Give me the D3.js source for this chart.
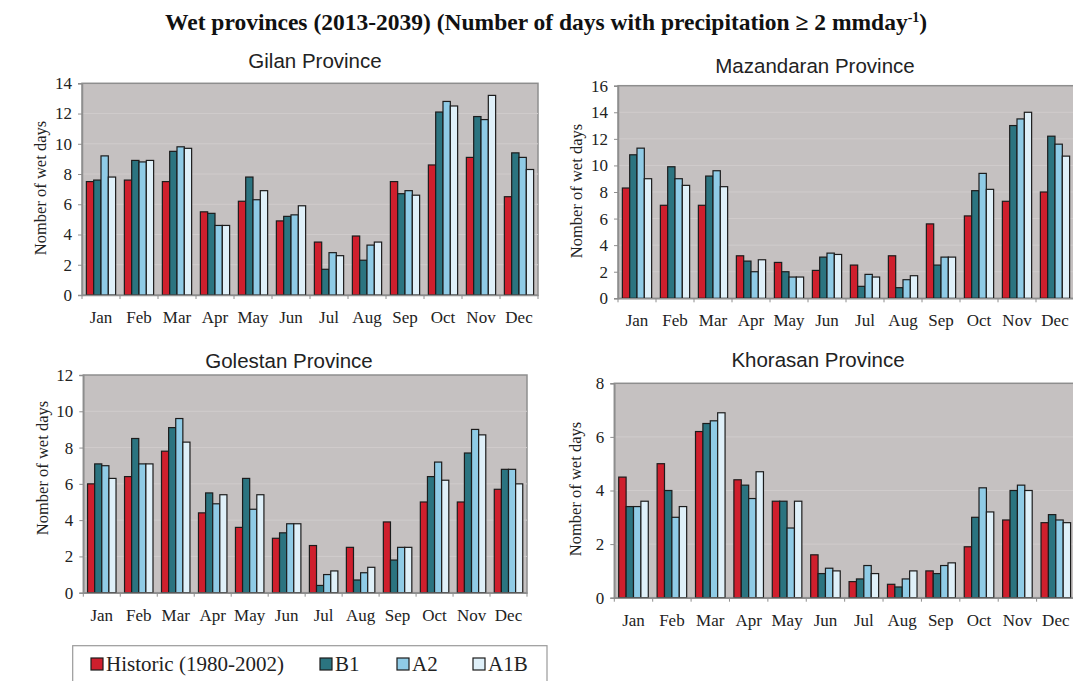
<!DOCTYPE html>
<html>
<head>
<meta charset="utf-8">
<script src="https://cdn.jsdelivr.net/npm/d3@7"></script>
<style>
  html, body { margin: 0; padding: 0; background: #fff; overflow: hidden; }
  svg { display: block; }
</style>
</head>
<body>
<svg id="chart" width="1073" height="681"></svg>
<script>
// ---------------- DATA ----------------
const months = ["Jan","Feb","Mar","Apr","May","Jun","Jul","Aug","Sep","Oct","Nov","Dec"];
const seriesNames = ["Historic (1980-2002)", "B1", "A2", "A1B"];

const gilanHistoric = [7.5, 7.6, 7.5, 5.5, 6.2, 4.9, 3.5, 3.9, 7.5, 8.6, 9.1, 6.5];
const gilanB1       = [7.6, 8.9, 9.5, 5.4, 7.8, 5.2, 1.7, 2.3, 6.7, 12.1, 11.8, 9.4];
const gilanA2       = [9.2, 8.8, 9.8, 4.6, 6.3, 5.3, 2.8, 3.3, 6.9, 12.8, 11.6, 9.1];
const gilanA1B      = [7.8, 8.9, 9.7, 4.6, 6.9, 5.9, 2.6, 3.5, 6.6, 12.5, 13.2, 8.3];

const mazandaranHistoric = [8.3, 7.0, 7.0, 3.2, 2.7, 2.1, 2.5, 3.2, 5.6, 6.2, 7.3, 8.0];
const mazandaranB1       = [10.8, 9.9, 9.2, 2.8, 2.0, 3.1, 0.9, 0.8, 2.5, 8.1, 13.0, 12.2];
const mazandaranA2       = [11.3, 9.0, 9.6, 2.0, 1.6, 3.4, 1.8, 1.4, 3.1, 9.4, 13.5, 11.6];
const mazandaranA1B      = [9.0, 8.5, 8.4, 2.9, 1.6, 3.3, 1.6, 1.7, 3.1, 8.2, 14.0, 10.7];

const golestanHistoric = [6.0, 6.4, 7.8, 4.4, 3.6, 3.0, 2.6, 2.5, 3.9, 5.0, 5.0, 5.7];
const golestanB1       = [7.1, 8.5, 9.1, 5.5, 6.3, 3.3, 0.4, 0.7, 1.8, 6.4, 7.7, 6.8];
const golestanA2       = [7.0, 7.1, 9.6, 4.9, 4.6, 3.8, 1.0, 1.1, 2.5, 7.2, 9.0, 6.8];
const golestanA1B      = [6.3, 7.1, 8.3, 5.4, 5.4, 3.8, 1.2, 1.4, 2.5, 6.2, 8.7, 6.0];

const khorasanHistoric = [4.5, 5.0, 6.2, 4.4, 3.6, 1.6, 0.6, 0.5, 1.0, 1.9, 2.9, 2.8];
const khorasanB1       = [3.4, 4.0, 6.5, 4.2, 3.6, 0.9, 0.7, 0.4, 0.9, 3.0, 4.0, 3.1];
const khorasanA2       = [3.4, 3.0, 6.6, 3.7, 2.6, 1.1, 1.2, 0.7, 1.2, 4.1, 4.2, 2.9];
const khorasanA1B      = [3.6, 3.4, 6.9, 4.7, 3.6, 1.0, 0.9, 1.0, 1.3, 3.2, 4.0, 2.8];

const gilanTicks = [0, 2, 4, 6, 8, 10, 12, 14];
const mazandaranTicks = [0, 2, 4, 6, 8, 10, 12, 14, 16];
const golestanTicks = [0, 2, 4, 6, 8, 10, 12];
const khorasanTicks = [0, 2, 4, 6, 8];

const mainTitle = "Wet provinces (2013-2039) (Number of days with precipitation \u2265 2 mmday";
const yLabel = "Nomber of wet days";

// ---------------- STYLE / LAYOUT ----------------
const colors = ["#cf1f2d", "#2b7480", "#8fcbe6", "#dff0f9"];
const serif = "'Liberation Serif', 'Times New Roman', serif";
const sans = "'Liberation Sans', Arial, sans-serif";

const panels = [
  { title: "Gilan Province", data: [gilanHistoric, gilanB1, gilanA2, gilanA1B], ticks: gilanTicks,
    x0: 82, x1: 538, yTop: 83.3, yBot: 295, titleX: 315, titleY: 68, yLabX: 40, yLabY: 188 },
  { title: "Mazandaran Province", data: [mazandaranHistoric, mazandaranB1, mazandaranA2, mazandaranA1B], ticks: mazandaranTicks,
    x0: 618, x1: 1074, yTop: 85.7, yBot: 298.3, titleX: 815, titleY: 73, yLabX: 576, yLabY: 191 },
  { title: "Golestan Province", data: [golestanHistoric, golestanB1, golestanA2, golestanA1B], ticks: golestanTicks,
    x0: 83.3, x1: 527, yTop: 375, yBot: 592.7, titleX: 289, titleY: 368, yLabX: 42, yLabY: 468 },
  { title: "Khorasan Province", data: [khorasanHistoric, khorasanB1, khorasanA2, khorasanA1B], ticks: khorasanTicks,
    x0: 614.3, x1: 1075, yTop: 383.3, yBot: 597.7, titleX: 818, titleY: 367, yLabX: 575, yLabY: 489 }
];

const svg = d3.select("#chart");

// main title
const t = svg.append("text")
  .attr("x", 165).attr("y", 30)
  .attr("font-family", serif).attr("font-weight", "bold").attr("font-size", 23.5)
  .attr("fill", "#111");
t.append("tspan").text(mainTitle);
t.append("tspan").attr("dy", -8).attr("font-size", 14).text("-1");
t.append("tspan").attr("dy", 8).text(")");

panels.forEach(p => {
  const g = svg.append("g");
  const yMax = p.ticks[p.ticks.length - 1];
  const x = d3.scaleBand().domain(months).range([p.x0, p.x1]).padding(0);
  const xs = d3.scaleBand().domain(d3.range(4))
    .range([x.bandwidth() * 0.115, x.bandwidth() * 0.885]).padding(0);
  const y = d3.scaleLinear().domain([0, yMax]).range([p.yBot, p.yTop]);

  // plot background
  g.append("rect")
    .attr("x", p.x0).attr("y", y(yMax))
    .attr("width", p.x1 - p.x0).attr("height", y(0) - y(yMax))
    .attr("fill", "#c5c1c1").attr("stroke", "#8e8e8e").attr("stroke-width", 1.5);

  // gridlines
  g.selectAll(".grid").data(p.ticks.slice(1, -1)).join("line")
    .attr("x1", p.x0).attr("x2", p.x1)
    .attr("y1", d => y(d)).attr("y2", d => y(d))
    .attr("stroke", "#d0cccc").attr("stroke-width", 1);

  // bars
  const groups = g.selectAll(".mg").data(months).join("g")
    .attr("transform", m => `translate(${x(m)},0)`);
  groups.selectAll("rect").data((m, i) => p.data.map((s, k) => ({ k, v: s[i] }))).join("rect")
    .attr("x", d => xs(d.k)).attr("width", xs.bandwidth())
    .attr("y", d => y(d.v)).attr("height", d => y(0) - y(d.v))
    .attr("fill", d => colors[d.k])
    .attr("stroke", "#1c1c1c").attr("stroke-width", 1.2);

  // y axis
  const ya = g.append("g").attr("transform", `translate(${p.x0},0)`)
    .call(d3.axisLeft(y).tickValues(p.ticks).tickSize(4).tickPadding(6).tickFormat(d3.format("d")));
  ya.select(".domain").attr("stroke", "#8e8e8e").attr("stroke-width", 1.5);
  ya.selectAll(".tick line").attr("stroke", "#8e8e8e");
  ya.selectAll(".tick text").attr("font-family", serif).attr("font-size", 17).attr("fill", "#222");

  // x axis
  const xa = g.append("g").attr("transform", `translate(0,${p.yBot})`)
    .call(d3.axisBottom(x).tickSize(0).tickPadding(16));
  xa.select(".domain").attr("stroke", "#8e8e8e").attr("stroke-width", 1.5);
  xa.selectAll(".tick text").attr("font-family", serif).attr("font-size", 17).attr("fill", "#222");
  // tick marks between month groups
  g.selectAll(".xt").data(d3.range(months.length + 1)).join("line")
    .attr("x1", i => p.x0 + i * x.step()).attr("x2", i => p.x0 + i * x.step())
    .attr("y1", p.yBot).attr("y2", p.yBot + 4)
    .attr("stroke", "#8e8e8e").attr("stroke-width", 1);

  // y label
  g.append("text")
    .attr("transform", `translate(${p.yLabX},${p.yLabY}) rotate(-90)`)
    .attr("text-anchor", "middle").attr("dominant-baseline", "central")
    .attr("font-family", serif).attr("font-size", 16.5).attr("fill", "#222")
    .text(yLabel);

  // panel title
  g.append("text")
    .attr("x", p.titleX).attr("y", p.titleY).attr("text-anchor", "middle")
    .attr("font-family", sans).attr("font-size", 20.5).attr("fill", "#222")
    .text(p.title);
});

// legend
const lg = svg.append("g");
lg.append("rect").attr("x", 72.7).attr("y", 645.7).attr("width", 474.3).attr("height", 50)
  .attr("fill", "#fff").attr("stroke", "#9a9a9a").attr("stroke-width", 1.2);
const legX = [91, 320, 397, 473];
seriesNames.forEach((n, k) => {
  lg.append("rect").attr("x", legX[k]).attr("y", 658).attr("width", 12).attr("height", 12)
    .attr("fill", colors[k]).attr("stroke", "#1c1c1c").attr("stroke-width", 1.2);
  lg.append("text").attr("x", legX[k] + 15).attr("y", 671)
    .attr("font-family", serif).attr("font-size", 21).attr("fill", "#222").text(n);
});
</script>
</body>
</html>
